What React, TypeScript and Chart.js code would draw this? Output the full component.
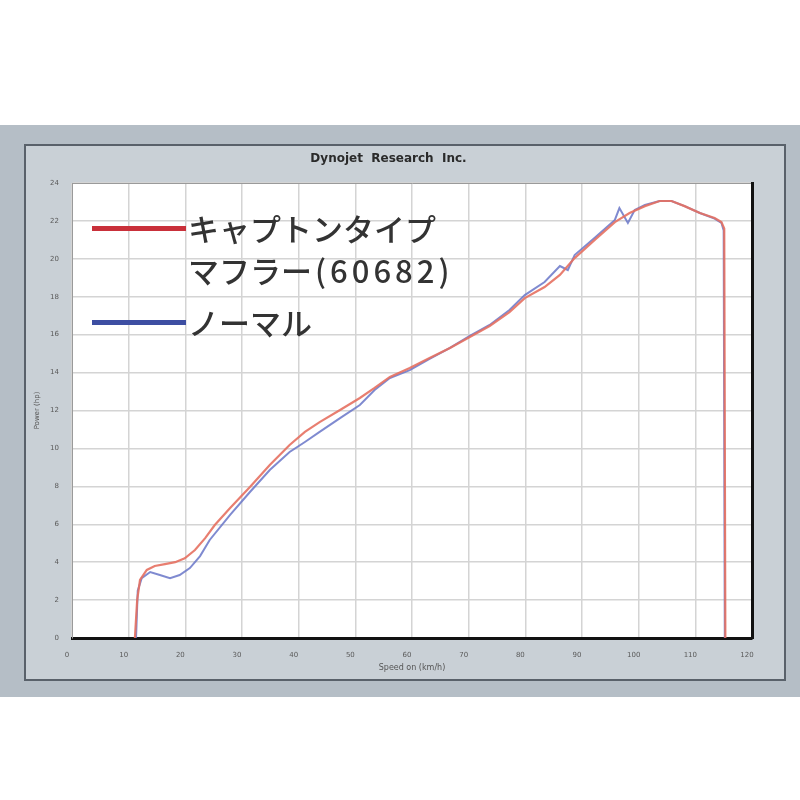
import React, { useEffect, useRef } from "react";
import { Chart, registerables } from "chart.js";

Chart.register(...registerables);

// ---- data ----
const chartTitle = "Dynojet  Research  Inc.";
const xAxisTitle = "Speed on (km/h)";
const yAxisTitle = "Power (hp)";
const xTickValues = [0, 10, 20, 30, 40, 50, 60, 70, 80, 90, 100, 110, 120];
const yTickValues = [0, 2, 4, 6, 8, 10, 12, 14, 16, 18, 20, 22, 24];
const legendLabels = ["キャプトンタイプ", "マフラー", "(60682)", "ノーマル"];

const captonX = [11.1, 11.5, 12.0, 13.2, 14.6, 16.4, 18.2, 19.9, 21.7, 23.5, 25.2, 27.9, 31.4, 34.9, 38.4, 41.1, 43.7, 47.3, 50.8, 53.4, 56.1, 59.6, 63.1, 66.7, 70.2, 73.7, 77.2, 79.9, 83.4, 86.1, 88.7, 92.2, 95.8, 98.4, 101.1, 103.7, 105.8, 108.1, 110.8, 113.4, 114.6, 115.1, 115.3];
const captonY = [0, 2.0, 3.06, 3.59, 3.8, 3.9, 4.0, 4.2, 4.64, 5.27, 5.96, 6.86, 7.96, 9.12, 10.18, 10.87, 11.39, 12.03, 12.66, 13.19, 13.77, 14.24, 14.77, 15.3, 15.88, 16.46, 17.19, 17.93, 18.51, 19.15, 20.04, 20.99, 21.94, 22.42, 22.78, 23.05, 23.05, 22.78, 22.42, 22.15, 21.94, 21.6, 0];

const normalX = [11.3, 11.6, 12.3, 13.8, 15.5, 17.3, 19.0, 20.8, 22.6, 24.3, 27.9, 31.4, 34.9, 38.4, 41.1, 43.7, 47.3, 50.8, 53.4, 56.1, 59.6, 63.1, 66.7, 70.2, 73.7, 77.2, 79.9, 83.4, 86.1, 87.5, 88.7, 92.2, 95.8, 96.6, 98.1, 99.3, 101.1, 103.7, 105.8, 108.1, 110.8, 113.4, 114.6, 115.0, 115.2];
const normalY = [0, 2.5, 3.16, 3.48, 3.32, 3.16, 3.32, 3.69, 4.32, 5.17, 6.49, 7.7, 8.86, 9.81, 10.34, 10.87, 11.6, 12.29, 13.08, 13.71, 14.13, 14.72, 15.3, 15.94, 16.51, 17.3, 18.09, 18.78, 19.62, 19.41, 20.2, 21.1, 22.05, 22.68, 21.89, 22.57, 22.84, 23.05, 23.05, 22.78, 22.42, 22.12, 21.9, 21.5, 0];

const toPoints = (xs: number[], ys: number[]) => xs.map((x, i) => ({ x, y: ys[i] }));

const plotBg = {
  id: "plotBg",
  beforeDraw(chart: any) {
    const { ctx, chartArea } = chart;
    if (!chartArea) return;
    ctx.save();
    ctx.fillStyle = "#ffffff";
    ctx.fillRect(chartArea.left, chartArea.top, chartArea.right - chartArea.left, chartArea.bottom - chartArea.top);
    ctx.restore();
  },
};

export default function App() {
  const canvasRef = useRef<HTMLCanvasElement | null>(null);

  useEffect(() => {
    if (!canvasRef.current) return;
    const tickFont = { family: "DejaVu Sans", size: 7 };
    const chart = new Chart(canvasRef.current, {
      type: "scatter",
      data: {
        datasets: [
          {
            label: legendLabels[0] + legendLabels[1] + legendLabels[2],
            data: toPoints(captonX, captonY),
            showLine: true,
            borderColor: "rgba(230,112,96,0.9)",
            borderWidth: 2.2,
            pointRadius: 0,
            tension: 0,
          },
          {
            label: legendLabels[3],
            data: toPoints(normalX, normalY),
            showLine: true,
            borderColor: "rgba(104,118,200,0.85)",
            borderWidth: 2,
            pointRadius: 0,
            tension: 0,
          },
        ],
      },
      options: {
        animation: false,
        responsive: false,
        maintainAspectRatio: false,
        layout: { padding: { left: 0, right: 33, top: 0, bottom: 0 } },
        plugins: {
          legend: { display: false },
          tooltip: { enabled: false },
          title: {
            display: true,
            text: chartTitle,
            color: "#2a2a2a",
            font: { family: "DejaVu Sans", size: 12, weight: "bold" },
            padding: { top: 7, bottom: 16.6 },
          },
        },
        scales: {
          x: {
            type: "linear",
            min: 0,
            max: 120,
            afterBuildTicks: (s: any) => {
              s.ticks = xTickValues.map((v) => ({ value: v }));
            },
            afterFit: (s: any) => {
              s.height = 42;
            },
            grid: { color: "#d4d4d4", lineWidth: 1.5, drawTicks: false },
            border: { color: "#111111", width: 3 },
            ticks: { color: "#5a5a5a", font: tickFont, padding: 13, labelOffset: -5, maxRotation: 0, autoSkip: false },
            title: { display: true, text: xAxisTitle, color: "#555", font: { family: "DejaVu Sans", size: 8 }, padding: { top: 2, bottom: 7 } },
          },
          x2: {
            type: "linear",
            position: "top",
            min: 0,
            max: 120,
            afterFit: (s: any) => {
              s.height = 0;
            },
            grid: { drawOnChartArea: false, drawTicks: false },
            ticks: { display: false },
            border: { color: "#9a9a9a", width: 1 },
          },
          y: {
            type: "linear",
            min: 0,
            max: 24,
            afterBuildTicks: (s: any) => {
              s.ticks = yTickValues.map((v) => ({ value: v }));
            },
            afterFit: (s: any) => {
              s.width = 47;
            },
            grid: { color: "#d4d4d4", lineWidth: 1.5, drawTicks: false },
            border: { color: "#9a9a9a", width: 1 },
            ticks: { color: "#5a5a5a", font: tickFont, padding: 13, autoSkip: false },
            title: { display: true, text: yAxisTitle, color: "#555", font: { family: "DejaVu Sans", size: 7 }, padding: { top: 8, bottom: 0 } },
          },
          y2: {
            type: "linear",
            position: "right",
            min: 0,
            max: 24,
            afterFit: (s: any) => {
              s.width = 0;
            },
            grid: { drawOnChartArea: false, drawTicks: false },
            ticks: { display: false },
            border: { color: "#111111", width: 3 },
          },
        },
      } as any,
      plugins: [plotBg],
    });
    return () => chart.destroy();
  }, []);

  const legendFont: React.CSSProperties = {
    position: "absolute",
    fontFamily: "'Noto Sans CJK JP', sans-serif",
    fontSize: 31,
    lineHeight: "34px",
    color: "#333",
    fontWeight: 500,
    whiteSpace: "nowrap",
  };

  return (
    <div style={{ position: "absolute", left: 0, top: 0, width: 800, height: 800, background: "#ffffff", overflow: "hidden" }}>
      <div style={{ position: "absolute", left: 0, top: 125, width: 800, height: 572, background: "#b5bec6" }} />
      <div
        style={{
          position: "absolute",
          left: 24,
          top: 144,
          width: 762,
          height: 537,
          boxSizing: "border-box",
          border: "2px solid #59616a",
          background: "#c9d0d6",
        }}
      />
      <canvas ref={canvasRef} width={760} height={535} style={{ position: "absolute", left: 25, top: 145, width: 760, height: 535 }} />
      <div style={{ position: "absolute", left: 92, top: 226, width: 94, height: 5, background: "#c9303a" }} />
      <div style={{ position: "absolute", left: 92, top: 320, width: 94, height: 5, background: "#3d4ea2" }} />
      <div style={{ ...legendFont, left: 188, top: 211 }}>{legendLabels[0]}</div>
      <div style={{ ...legendFont, left: 188, top: 253 }}>
        {legendLabels[1]}
        <span style={{ letterSpacing: 4, marginLeft: 3 }}>{legendLabels[2]}</span>
      </div>
      <div style={{ ...legendFont, left: 188, top: 305 }}>{legendLabels[3]}</div>
    </div>
  );
}
